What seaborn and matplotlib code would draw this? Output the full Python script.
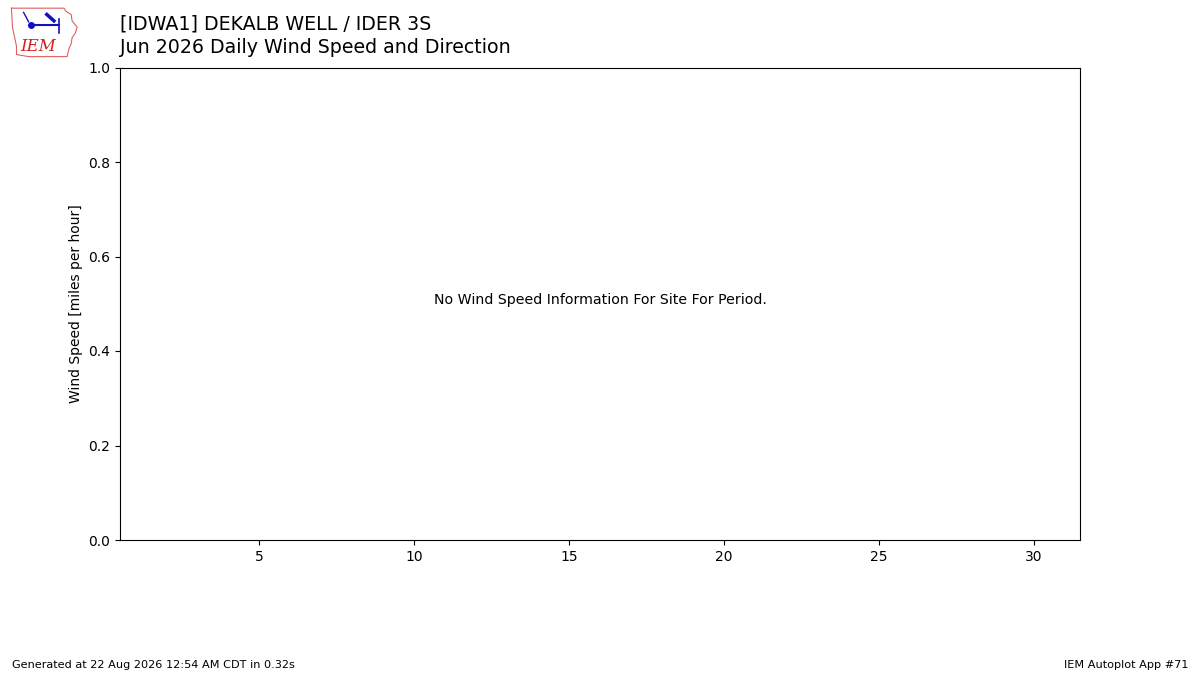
import matplotlib
matplotlib.use("Agg")
import matplotlib.pyplot as plt
import seaborn as sns
import pandas as pd

# Data (site reported nothing for the month)
days = list(range(1, 31))
wind_speed = []
wind_days = []
x_ticks = [5, 10, 15, 20, 25, 30]

title_line1 = "[IDWA1] DEKALB WELL / IDER 3S"
title_line2 = "Jun 2026 Daily Wind Speed and Direction"
no_data_msg = "No Wind Speed Information For Site For Period."

plt.rcParams['font.family'] = ['DejaVu Sans']

fig = plt.figure(figsize=(12, 6.75), dpi=100)
ax = fig.add_axes([0.1, 0.2, 0.8, 0.7])

df = pd.DataFrame({"day": pd.Series(wind_days, dtype=float),
                   "speed": pd.Series(wind_speed, dtype=float)})
sns.lineplot(data=df, x="day", y="speed", ax=ax)

# axis spans a full 31-day frame
ax.set_xlim(0.5, 31.5)
ax.set_ylim(0, 1)
ax.set_xticks(x_ticks)
ax.set_xlabel("")
ax.set_ylabel("Wind Speed [miles per hour]")
ax.text(0.5, 0.5, no_data_msg, transform=ax.transAxes, ha="center",
        fontsize=10.2)

fig.text(0.1, 0.965, title_line1, fontsize=13.7, va="center")
fig.text(0.1, 0.929, title_line2, fontsize=13.7, va="center")

fig.text(0.01, 0.01, "Generated at 22 Aug 2026 12:54 AM CDT in 0.32s", fontsize=8.1)
fig.text(0.99, 0.01, "IEM Autoplot App #71", fontsize=8.1, ha="right")

# rough IEM logo
lax = fig.add_axes([0.007, 0.913, 0.059, 0.078])
lax.set_xlim(0, 70)
lax.set_ylim(50, 0)
lax.axis("off")
ox = [3, 55, 57, 62, 63, 68, 66, 63, 62, 60, 58, 20, 8, 8, 4, 3]
oy = [2, 2, 5, 8, 14, 20, 26, 30, 36, 40, 48, 48, 46, 38, 20, 2]
lax.plot(ox, oy, color="#e06060", lw=0.8)
lax.text(12, 38, "IEM", color="#d02020", fontsize=12, fontstyle="italic",
         family="DejaVu Serif", va="center")
lax.plot([22, 50], [18, 18], color="#1010c0", lw=1.5)
lax.plot([50, 50], [12, 26], color="#1010c0", lw=1.2)
lax.plot([22], [18], "o", color="#1010c0", ms=4)
lax.plot([15, 20], [6, 15], color="#1010c0", lw=1)
lax.plot([38, 45], [8, 14], color="#1010c0", lw=2.5)

fig.savefig("out.png", dpi=100)
